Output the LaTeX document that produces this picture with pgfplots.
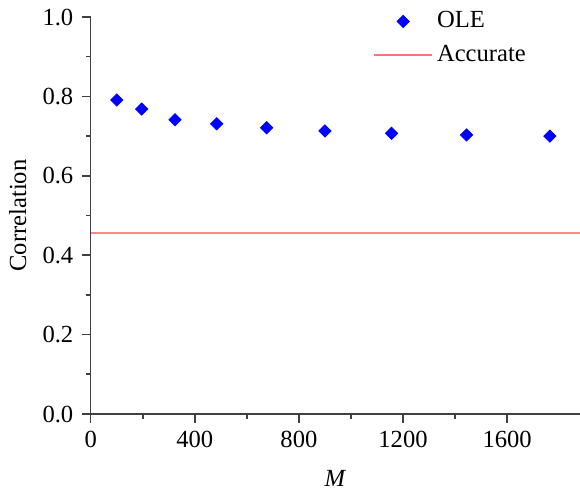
\documentclass[border=0pt]{standalone}
\usepackage{pgfplots}
\pgfplotsset{compat=1.18}
\usepackage{fontspec}
\setmainfont{Liberation Serif}
\begin{document}
\fontsize{12}{14}\selectfont
\begin{tikzpicture}
\useasboundingbox (-45.35pt,-39pt) rectangle (244.65pt,207pt);
\begin{axis}[
  scale only axis, width=244.65pt, height=198.5pt,
  xmin=0, xmax=1880, ymin=0, ymax=1,
  axis x line=bottom, axis y line=left,
  axis line style={-, black!75, line width=0.8pt},
  tick align=outside, major tick length=4.5pt, minor tick length=2.5pt,
  every tick/.style={black!75, line width=0.8pt},
  xtick={0,400,800,1200,1600}, minor x tick num=1,
  xticklabels={0,400,800,1200,1600},
  ytick={0,0.2,0.4,0.6,0.8,1.0}, minor y tick num=1,
  yticklabels={0.0,0.2,0.4,0.6,0.8,1.0},
  tick label style={font=\fontsize{12.3}{14}\selectfont},
  label style={font=\fontsize{12.3}{14}\selectfont},
  xlabel={\textit{M}}, ylabel={Correlation},
  xlabel style={at={(axis description cs:0.5,-0.163)}, anchor=center},
  ylabel style={at={(axis description cs:-0.149,0.5)}, anchor=center},
  legend style={draw=none, fill=none, at={(axis description cs:0.577,1.025)}, anchor=north west,
    font=\fontsize{12.3}{14}\selectfont, row sep=3pt, inner sep=0pt},
  legend cell align=left,
  clip=false,
]
\addplot[only marks, mark=square*, mark size=2.15pt, mark options={rotate=45, fill=blue, draw=blue}, color=blue,
  legend image code/.code={\draw[blue, fill=blue] plot[mark=square*, mark size=2.15pt, mark options={rotate=45}] coordinates {(14.5pt,0pt)};}]
  coordinates {
  (100,0.791) (196,0.768) (324,0.741) (484,0.731) (676,0.721)
  (900,0.713) (1156,0.707) (1444,0.703) (1764,0.700)
};
\addlegendentry{OLE}
\addplot[red!85, opacity=0.55, line width=1pt,
  legend image code/.code={\draw[red, line width=0.8pt] (0pt,0pt) -- (29pt,0pt);}]
  coordinates {(0,0.456) (1880,0.456)};
\addlegendentry{Accurate}
\end{axis}
\end{tikzpicture}
\end{document}
